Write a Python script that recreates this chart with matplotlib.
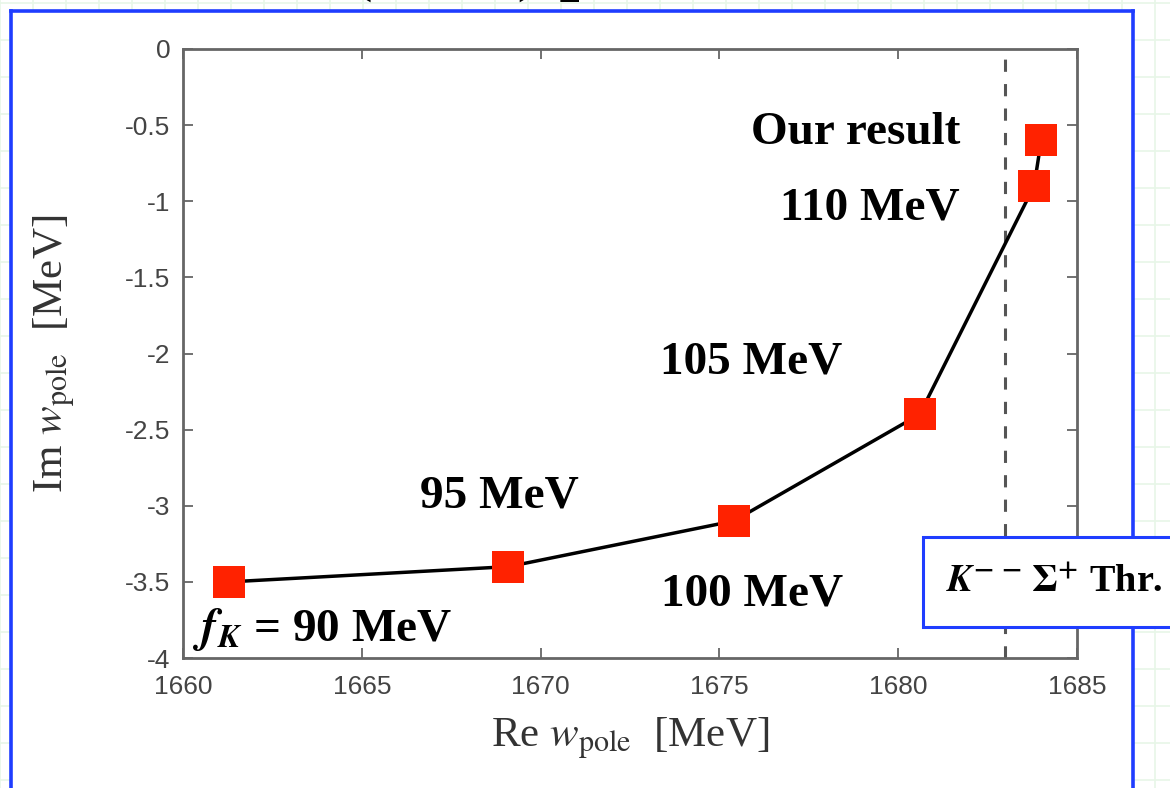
import matplotlib
matplotlib.use('Agg')
import matplotlib.pyplot as plt
from matplotlib.patches import Rectangle
from matplotlib.lines import Line2D
import numpy as np

# pole positions for f_K = 90, 95, 100, 105, 110 MeV and our result
re_pole = [1661.3, 1669.1, 1675.4, 1680.6, 1683.8, 1684.0]
im_pole = [-3.5, -3.4, -3.1, -2.4, -0.9, -0.6]
threshold = 1683.0  # K- Sigma+ threshold

xticks = [1660, 1665, 1670, 1675, 1680, 1685]
yticks = [0, -0.5, -1, -1.5, -2, -2.5, -3, -3.5, -4]
ytick_labels = ['0', '-0.5', '-1', '-1.5', '-2', '-2.5', '-3', '-3.5', '-4']

# text labels (text, x, y) in data units
labels = [
    ('Our result', 1678.8, -0.55),
    ('110 MeV', 1679.2, -1.05),
    ('105 MeV', 1675.9, -2.06),
    ('95 MeV', 1668.85, -2.94),
    ('100 MeV', 1675.9, -3.58),
    (r'$\mathbfit{f}_{\mathbfit{K}}$ = 90 MeV', 1663.9, -3.81),
]

plt.rcParams['font.family'] = ['Liberation Serif', 'DejaVu Serif']
plt.rcParams['mathtext.fontset'] = 'stix'

W, H = 1170, 788
fig = plt.figure(figsize=(W / 100, H / 100), dpi=100)
fig.patch.set_facecolor('white')

# slide background: faint green grid outside the blue frame
for gx in np.arange(0, W, 33):
    fig.add_artist(Line2D([gx / W, gx / W], [0, 1], color='#e8f6e8', lw=1.2, zorder=-3))
for gy in np.arange(3, H, 37):
    fig.add_artist(Line2D([0, 1], [1 - gy / H, 1 - gy / H], color='#e8f6e8', lw=1.2, zorder=-3))
fig.add_artist(Rectangle((11 / W, 0), (1133 - 11) / W, 1 - 11 / H,
                         transform=fig.transFigure, facecolor='white', edgecolor='none', zorder=-2))

# slide title, cut off at the top
fig.text(300 / W, 1 + 13 / H, 'Ξ(1690) pole', fontsize=52, fontweight='bold',
         ha='left', va='baseline', color='black', zorder=-1)

# blue frame
frame = dict(color='#1f3dff', lw=2.6, zorder=1, solid_capstyle='projecting')
fig.add_artist(Line2D([11 / W, 1133 / W], [1 - 11 / H, 1 - 11 / H], **frame))
fig.add_artist(Line2D([11 / W, 11 / W], [0, 1 - 11 / H], **frame))
fig.add_artist(Line2D([1133 / W, 1133 / W], [0, 1 - 11 / H], **frame))

ax = fig.add_axes([183 / W, 1 - 658 / H, (1077 - 183) / W, (658 - 49) / H])
ax.set_zorder(2)
ax.set_facecolor('none')

ax.axvline(threshold, color='#555555', lw=2.2, ls=(0, (4, 4)), zorder=1)
ax.plot(re_pole, im_pole, color='black', lw=2.5, zorder=2)
ax.plot(re_pole, im_pole, 's', color='#ff2200', markersize=22.5, markeredgewidth=0, zorder=3)

ax.set_xlim(1660, 1685)
ax.set_ylim(-4, 0)
ax.set_xticks(xticks)
ax.set_yticks(yticks)
ax.set_yticklabels(ytick_labels)
ax.tick_params(direction='in', length=7, width=1.3, color='#666666',
               top=True, right=True, labelsize=19, labelcolor='#444444')
ax.tick_params(axis='x', pad=12)
ax.tick_params(axis='y', pad=9)
for lab in ax.get_xticklabels() + ax.get_yticklabels():
    lab.set_fontfamily(['Liberation Sans', 'DejaVu Sans'])
for sp in ax.spines.values():
    sp.set_color('#666666')
    sp.set_linewidth(2)

ax.set_xlabel(r'Re $w_{\rm pole}$  [MeV]', fontsize=31, color='#333333')
ax.set_ylabel(r'Im $w_{\rm pole}$  [MeV]', fontsize=31, color='#333333')
ax.xaxis.set_label_coords(0.5, -0.095)
ax.yaxis.set_label_coords(-0.118, 0.5)

for txt, x, y in labels:
    ax.text(x, y, txt, fontsize=34, fontweight='bold', ha='center', va='center', zorder=4)

# threshold label box
fig.add_artist(Rectangle((923 / W, 1 - 627 / H), 300 / W, 90 / H, transform=fig.transFigure,
                         facecolor='white', edgecolor='#1f3dff', lw=2.2, zorder=5, clip_on=False))
fig.text(946 / W, 1 - 582 / H, r'$\mathbfit{K}^{\mathbf{\!--}}\,\mathbf{\Sigma}^{\mathbf{+}}$ Thr.',
         fontsize=27.5, fontweight='bold', ha='left', va='center', zorder=6)

fig.savefig('out.png', dpi=100)
